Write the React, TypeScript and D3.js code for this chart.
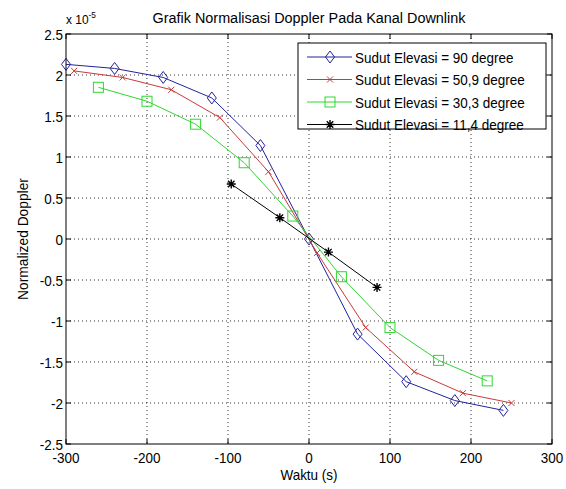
import React from 'react'
import * as d3 from 'd3'

// values in units of 1e-5
const blueX = [-300, -240, -180, -120, -60, 0, 60, 120, 180, 240]
const blueY = [2.13, 2.08, 1.97, 1.72, 1.14, 0, -1.16, -1.74, -1.97, -2.09]
const redX = [-290, -230, -170, -110, -50, 10, 70, 130, 190, 250]
const redY = [2.05, 1.97, 1.82, 1.48, 0.82, -0.17, -1.08, -1.62, -1.88, -2.0]
const greenX = [-260, -200, -140, -80, -20, 40, 100, 160, 220]
const greenY = [1.85, 1.68, 1.4, 0.93, 0.28, -0.46, -1.08, -1.48, -1.73]
const blackX = [-96, -36, 24, 84]
const blackY = [0.67, 0.26, -0.16, -0.59]

const seriesNames = [
  'Sudut Elevasi = 90 degree',
  'Sudut Elevasi = 50,9 degree',
  'Sudut Elevasi = 30,3 degree',
  'Sudut Elevasi = 11,4 degree',
]
const xTicks = [-300, -200, -100, 0, 100, 200, 300]
const yTicks = [-2.5, -2, -1.5, -1, -0.5, 0, 0.5, 1, 1.5, 2, 2.5]

const font = 'Arial, "Liberation Sans", Helvetica, sans-serif'

type Kind = 'diamond' | 'x' | 'square' | 'star'

// narrow, slightly tall text like the jpeg
const Txt = ({ x, y, size, anchor, sx, children }: any) => (
  <g transform={`translate(${x},${y}) scale(${sx ?? 0.9},1)`}>
    <text x={0} y={0} textAnchor={anchor ?? 'start'} fontSize={size} fill="#000">{children}</text>
  </g>
)

const Marker = ({ kind, x, y, color }: { kind: Kind; x: number; y: number; color: string }) => {
  if (kind === 'diamond') {
    return <path d={`M${x},${y - 6}L${x + 4.5},${y}L${x},${y + 6}L${x - 4.5},${y}Z`} fill="none" stroke={color} strokeWidth={1} />
  }
  if (kind === 'square') {
    return <rect x={x - 5} y={y - 5} width={10} height={10} fill="none" stroke={color} strokeWidth={1} />
  }
  if (kind === 'x') {
    let s = 3
    return <path d={`M${x - s},${y - s}L${x + s},${y + s}M${x - s},${y + s}L${x + s},${y - s}`} stroke={color} strokeWidth={1} />
  }
  let s = 4.5
  let d = s * 0.72
  return (
    <path
      d={`M${x - s},${y}L${x + s},${y}M${x},${y - s}L${x},${y + s}M${x - d},${y - d}L${x + d},${y + d}M${x - d},${y + d}L${x + d},${y - d}`}
      stroke={color}
      strokeWidth={1.4}
    />
  )
}

const App = () => {
  let width = 566
  let height = 489
  let left = 66, right = 552, top = 34, bottom = 444

  let xScale = d3.scaleLinear().domain([-300, 300]).range([left, right])
  let yScale = d3.scaleLinear().domain([-2.5, 2.5]).range([bottom, top])

  let series = [
    { xs: blueX, ys: blueY, color: '#22229e', kind: 'diamond' as Kind },
    { xs: redX, ys: redY, color: '#c83a3a', kind: 'x' as Kind },
    { xs: greenX, ys: greenY, color: '#2ed82e', kind: 'square' as Kind },
    { xs: blackX, ys: blackY, color: '#000000', kind: 'star' as Kind },
  ]

  let line = d3.line<[number, number]>()
    .x(d => xScale(d[0]))
    .y(d => yScale(d[1]))

  let legendRows = [57, 79.5, 102, 124.5]

  return (
    <svg width={width} height={height} style={{ position: 'absolute', left: 0, top: 0, background: '#fff' }} fontFamily={font}>
      <rect x={0} y={0} width={width} height={height} fill="#fff" />

      {/* grid */}
      {xTicks.slice(1, -1).map(t => (
        <line key={'gx' + t} x1={xScale(t)} x2={xScale(t)} y1={top} y2={bottom} stroke="#000" strokeWidth={1} strokeDasharray="1 3" opacity={0.8} />
      ))}
      {yTicks.slice(1, -1).map(t => (
        <line key={'gy' + t} x1={left} x2={right} y1={yScale(t)} y2={yScale(t)} stroke="#000" strokeWidth={1} strokeDasharray="1 3" opacity={0.8} />
      ))}

      {/* series */}
      {series.map((s, i) => (
        <g key={'s' + i}>
          <path d={line(s.xs.map((x, j) => [x, s.ys[j]] as [number, number])) || ''} fill="none" stroke={s.color} strokeWidth={1} />
          {s.xs.map((x, j) => (
            <Marker key={j} kind={s.kind} x={xScale(x)} y={yScale(s.ys[j])} color={s.color} />
          ))}
        </g>
      ))}

      {/* axes box and ticks */}
      <rect x={left} y={top} width={right - left} height={bottom - top} fill="none" stroke="#000" strokeWidth={1} />
      {xTicks.map(t => (
        <g key={'tx' + t}>
          <line x1={xScale(t)} x2={xScale(t)} y1={bottom} y2={bottom - 5} stroke="#000" />
          <line x1={xScale(t)} x2={xScale(t)} y1={top} y2={top + 5} stroke="#000" />
          <Txt x={xScale(t)} y={bottom + 19} size={15} anchor="middle">{t}</Txt>
        </g>
      ))}
      {yTicks.map(t => (
        <g key={'ty' + t}>
          <line x1={left} x2={left + 5} y1={yScale(t)} y2={yScale(t)} stroke="#000" />
          <line x1={right} x2={right - 5} y1={yScale(t)} y2={yScale(t)} stroke="#000" />
          <Txt x={left - 3} y={yScale(t) + 5.5} size={15} anchor="end">{String(t)}</Txt>
        </g>
      ))}

      <g transform={`translate(${left},24) scale(0.92,1)`}>
        <text x={0} y={0} fontSize={13} fill="#000">x 10<tspan dy={-6} fontSize={9}>-5</tspan></text>
      </g>
      <Txt x={(left + right) / 2} y={23} size={15.5} anchor="middle" sx={0.93}>Grafik Normalisasi Doppler Pada Kanal Downlink</Txt>
      <Txt x={(left + right) / 2} y={480} size={15} anchor="middle">Waktu (s)</Txt>
      <g transform={`translate(28,${(top + bottom) / 2}) rotate(-90) scale(0.92,1)`}>
        <text x={0} y={0} textAnchor="middle" fontSize={15} fill="#000">Normalized Doppler</text>
      </g>

      {/* legend */}
      <rect x={298} y={43} width={248} height={86} fill="#fff" stroke="#000" strokeWidth={1} />
      {series.map((s, i) => (
        <g key={'lg' + i}>
          <line x1={307} x2={352} y1={legendRows[i]} y2={legendRows[i]} stroke={s.color} strokeWidth={1} />
          <Marker kind={s.kind} x={330} y={legendRows[i]} color={s.color} />
          <Txt x={355} y={legendRows[i] + 5.5} size={14.5} sx={0.93}>{seriesNames[i]}</Txt>
        </g>
      ))}
    </svg>
  )
}

export default App
